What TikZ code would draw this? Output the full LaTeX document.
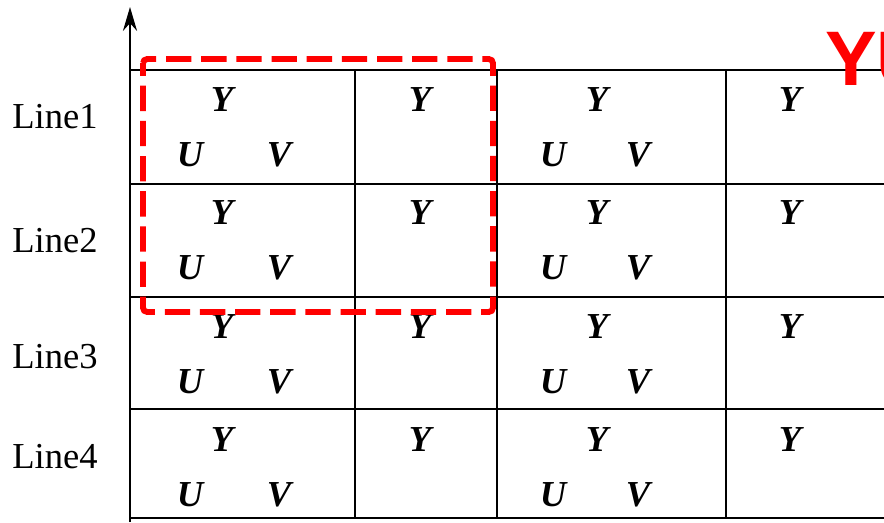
\documentclass[tikz,border=0pt]{standalone}
\usepackage{fontspec}
\setmainfont{Liberation Serif}
\setsansfont{Liberation Sans}
\usetikzlibrary{arrows.meta}

\tikzset{
  gridline/.style={line width=1.4pt},
  linelabel/.style={font=\fontsize{26}{28}\selectfont, inner sep=0pt},
  comp/.style={font=\fontsize{26}{28}\selectfont\bfseries\itshape, inner sep=0pt},
  groupbox/.style={draw=red, line width=4.2pt, dash pattern=on 18pt off 7pt, dash phase=9pt, rounded corners=3pt},
}

\begin{document}
\begin{tikzpicture}[>=Stealth, x=0.025cm, y=-0.025cm]
    \useasboundingbox (0,0) rectangle (884,522);
    \clip (0,0) rectangle (884,522);
    % grid of sample cells
    \foreach \gy in {70,184,297,409,518}
        \draw[gridline] (130,\gy) -- (884,\gy);
    \foreach \gx in {355,497,726}
        \draw[gridline] (\gx,70) -- (\gx,518);
    % vertical axis
    \coordinate (axisfoot) at (130,522);
    \coordinate (axistip) at (130,7);
    \draw[-{Stealth[length=17pt, width=10pt]}, line width=1.6pt] (axisfoot) -- (axistip);
    % line labels and Y/U/V samples
    \foreach \r/\ly/\ty in {1/117/100, 2/241/213, 3/357/327, 4/457/440} {
        \node[linelabel] (line\r) at (55,\ly) {Line\r};
        \node[comp] (ya\r) at (222,\ty) {Y};
        \node[comp] (ua\r) at (190,{\ty+55}) {U};
        \node[comp] (va\r) at (279,{\ty+55}) {V};
        \node[comp] (yb\r) at (420,\ty) {Y};
        \node[comp] (yc\r) at (597,\ty) {Y};
        \node[comp] (uc\r) at (553,{\ty+55}) {U};
        \node[comp] (vc\r) at (638,{\ty+55}) {V};
        \node[comp] (yd\r) at (790,\ty) {Y};
    }
    % 2x2 group
    \draw[groupbox] (143,59) rectangle (493,312);
    \node[font=\sffamily\bfseries\fontsize{55}{60}\selectfont, text=red, inner sep=0pt, anchor=base west] (yutag) at (825,85) {YU};
\end{tikzpicture}
\end{document}
